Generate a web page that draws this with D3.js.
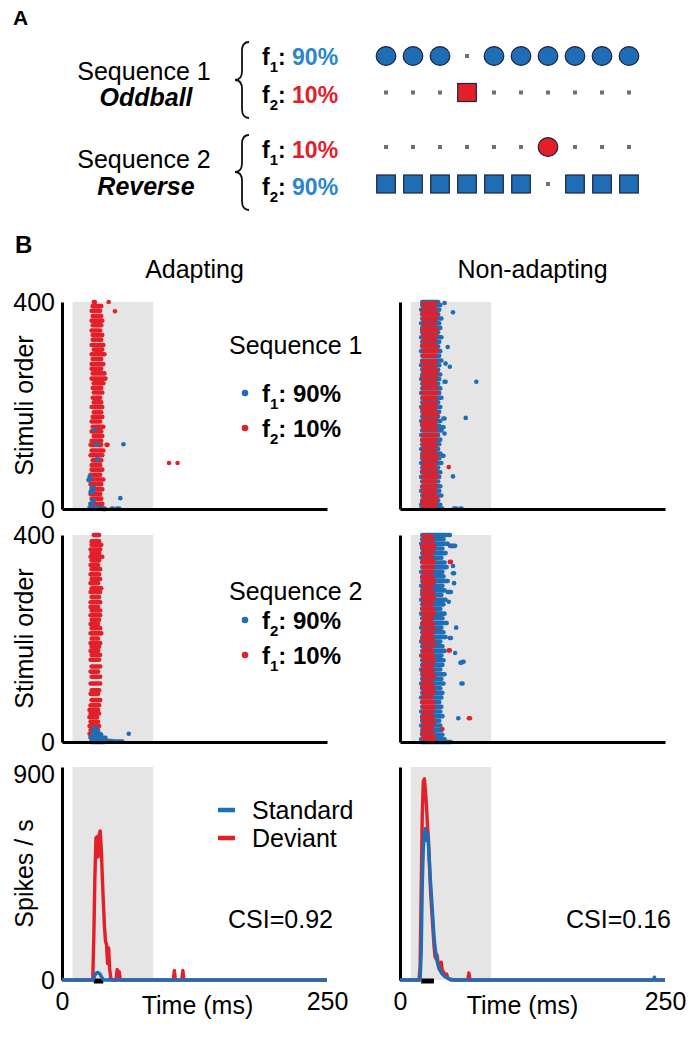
<!DOCTYPE html>
<html><head><meta charset="utf-8">
<script src="https://cdn.jsdelivr.net/npm/d3@7"></script>
<style>
html,body{margin:0;padding:0;background:#fff;}
svg{display:block;font-family:"Liberation Sans",Arial,Helvetica,sans-serif;}
</style></head><body>
<svg id="fig" width="697" height="1037"></svg>
<script>
// ================= DATA =================
// Panel A: stimulus sequences (1 = stimulus shown at that position)
const seqPositions = [0,1,2,3,4,5,6,7,8,9];
const seq1F1 = [1,1,1,0,1,1,1,1,1,1];
const seq1F2 = [0,0,0,1,0,0,0,0,0,0];
const seq2F1 = [0,0,0,0,0,0,1,0,0,0];
const seq2F2 = [1,1,1,1,1,1,0,1,1,1];
const seqLabels = ["Sequence 1","Sequence 2"];
const seqNames = ["Oddball","Reverse"];
const rowLabels = [["1","90%"],["2","10%"],["1","10%"],["2","90%"]];

// Panel B axes
const timeDomain = [0,250];
const trialDomain = [0,400];
const rateDomain = [0,900];
const stimWindow = [10,86];
const timeTicks = [0,250];
const trialTicks = [0,400];
const rateTicks = [0,900];
const columnTitles = ["Adapting","Non-adapting"];
const csiValues = ["CSI=0.92","CSI=0.16"];

// Rasters: [stimulus order, first spike (ms), last spike (ms)]
const adaptSeq1Red = [[400,30,31],[400,44,44],[392,29,37],[383,28,36],[382,50,50],[373,29,37],[364,28,38],[355,29,37],[345,28,36],[336,29,38],[327,29,37],[317,28,39],[308,30,38],[299,28,40],[290,29,37],[280,28,39],[271,28,37],[262,29,40],[252,28,41],[243,30,39],[234,29,37],[225,30,38],[215,29,36],[206,30,37],[197,28,38],[187,30,37],[178,29,38],[169,28,36],[159,29,39],[150,28,37],[141,30,38],[132,28,37],[124,27,37],[124,42,43],[113,28,39],[104,27,38],[94,29,37],[89,101,101],[89,109,109],[85,28,36],[76,28,38],[66,27,36],[57,28,39],[48,27,37],[38,28,38],[29,27,36],[20,28,37],[10,27,38],[2,28,39]];
const adaptSeq1Blue = [[153,31,31],[125,32,33],[125,58,58],[96,33,34],[62,26,27],[56,25,26],[41,28,30],[33,27,29],[21,55,55],[17,29,30],[10,27,28],[3,26,28],[3,32,35],[1,47,48],[1,52,54],[0,38,41]];
const adaptSeq2Red = [[400,30,35],[388,28,35],[381,28,37],[372,27,36],[365,28,35],[358,27,38],[351,28,35],[342,27,34],[334,28,36],[324,27,35],[315,28,36],[307,27,34],[297,28,37],[290,27,36],[280,28,35],[270,27,36],[261,27,34],[254,28,36],[245,27,36],[236,28,35],[228,27,34],[220,28,36],[210,27,37],[200,28,34],[191,27,36],[184,28,35],[176,27,34],[168,28,36],[159,27,35],[146,28,36],[136,27,34],[126,28,36],[113,27,36],[100,28,35],[93,27,34],[81,28,36],[71,27,35],[62,26,34],[55,27,35],[48,26,33],[39,27,34],[31,26,35],[23,27,34],[16,26,33],[8,27,32]];
const adaptSeq2Blue = [[27,31,32],[22,29,33],[16,30,36],[14,35,37],[16,63,63],[10,27,33],[8,38,41],[5,28,35],[3,36,42],[2,43,47],[1,46,50],[1,52,57],[0,28,40]];
const nonadSeq1Blue = [[400,21,36],[394,21,38],[385,20,37],[376,21,36],[368,21,39],[359,20,37],[350,21,38],[341,21,36],[332,20,39],[323,21,37],[314,21,36],[305,20,38],[296,21,37],[287,21,39],[278,20,37],[269,21,36],[260,21,38],[251,20,37],[242,21,36],[233,21,38],[224,20,37],[215,21,39],[206,21,36],[197,20,38],[188,21,37],[179,21,36],[170,20,38],[161,21,37],[152,21,39],[143,20,36],[134,21,38],[125,21,37],[116,20,36],[107,21,38],[98,21,37],[89,20,39],[80,21,36],[71,21,38],[62,20,37],[53,21,36],[44,21,38],[35,20,37],[26,21,39],[17,21,36],[8,20,38],[1,20,40],
  [398,42,42],[380,50,50],[313,45,45],[281,43,43],[275,47,47],[246,42,43],[246,72,72],[176,62,62],[175,41,42],[158,40,41],[146,42,42],[103,40,41],[63,50,50],[1,51,53],[1,57,58]];
const nonadSeq1Red = [[397,22,34],[387,22,33],[377,21,35],[367,22,34],[356,22,33],[346,21,35],[336,22,34],[326,22,33],[316,21,34],[306,22,35],[296,22,33],[285,21,34],[275,22,33],[265,22,35],[255,21,34],[245,22,33],[235,22,34],[224,21,35],[214,22,33],[204,22,34],[194,21,33],[184,22,35],[174,22,34],[164,21,33],[154,22,34],[143,22,35],[133,21,33],[123,22,34],[113,22,33],[103,21,35],[93,22,34],[83,22,33],[81,46,46],[73,21,34],[63,22,35],[53,22,33],[43,21,34],[33,22,33],[23,22,35],[13,21,34],[4,22,33]];
const nonadSeq2Blue = [[400,21,44],[392,21,41],[383,20,45],[374,21,40],[365,21,43],[356,20,39],[347,21,42],[338,21,44],[329,20,40],[320,21,41],[311,21,45],[302,20,40],[293,21,42],[284,21,39],[275,20,43],[266,21,41],[257,21,38],[248,20,42],[239,21,40],[230,21,44],[221,20,39],[212,21,41],[203,21,43],[194,20,38],[185,21,40],[176,21,42],[167,20,39],[158,21,41],[149,21,40],[140,20,38],[131,21,42],[122,21,39],[113,20,41],[104,21,38],[95,21,40],[86,20,39],[77,21,37],[68,21,39],[59,20,38],[50,21,40],[41,21,37],[32,20,38],[23,21,39],[14,21,40],[5,20,42],[0,20,48],
  [400,46,47],[379,47,52],[340,50,50],[326,50,51],[307,51,51],[290,45,48],[271,46,46],[221,53,53],[201,47,48],[172,52,52],[155,59,60],[153,57,58],[113,58,59],[46,55,55]];
const nonadSeq2Red = [[398,22,30],[388,22,31],[378,21,32],[368,22,31],[358,22,30],[348,21,32],[348,47,48],[338,22,31],[328,22,30],[318,21,31],[308,22,32],[298,22,30],[288,21,31],[278,22,32],[268,22,30],[258,21,31],[248,22,32],[238,22,30],[228,21,31],[218,22,32],[208,22,30],[198,21,31],[188,22,32],[177,22,30],[177,46,47],[167,21,31],[157,22,32],[147,22,30],[137,21,31],[127,22,32],[117,22,30],[107,21,31],[97,22,32],[87,22,30],[77,21,31],[67,22,32],[57,22,30],[46,65,66],[47,21,31],[37,22,32],[25,40,40],[27,22,30],[17,21,31],[7,22,32]];

// PSTH: [time (ms), spikes/s]
const psthAdaptDev = [[0,0],[29,0],[30,180],[31,430],[32,600],[33,605],[34,520],[35,610],[36,630],[37,560],[38,440],[39,330],[40,230],[41,165],[42,150],[43,70],[44,135],[45,45],[46,10],[47,0],[51,0],[52,45],[53,0],[54,35],[55,0],[105,0],[106,40],[107,0],[113,0],[114,40],[115,0],[250,0]];
const psthAdaptStd = [[0,0],[29,0],[30,8],[31,20],[32,28],[33,30],[34,32],[35,28],[36,25],[37,15],[38,8],[39,3],[40,0],[44,0],[45,5],[46,0],[52,0],[53,4],[54,0],[250,0]];
const psthNonadDev = [[0,0],[18,0],[19,60],[20,380],[21,700],[22,840],[23,850],[24,800],[25,730],[26,650],[27,580],[28,460],[29,360],[30,290],[31,220],[32,150],[33,100],[34,90],[35,105],[36,70],[37,60],[38,50],[39,75],[40,30],[41,35],[42,20],[43,15],[44,25],[45,10],[46,5],[48,0],[64,0],[65,30],[66,0],[250,0]];
const psthNonadStd = [[0,0],[19,0],[20,120],[21,400],[22,560],[23,620],[24,640],[25,590],[26,620],[27,560],[28,480],[29,400],[30,330],[31,260],[32,190],[33,140],[34,110],[35,80],[36,60],[37,45],[38,40],[39,30],[40,25],[42,15],[44,10],[46,6],[48,4],[50,0],[239,0],[240,12],[241,0],[250,0]];
const sigWindows = [[30,39],[20,32]];

// ================= STYLE =================
const BLUE = "#1f6db5", RED = "#e3202a", TXTBLUE = "#2a86c9", GRAY = "#e5e5e5";
const FS = 25;

const svg = d3.select("#fig");

// ================= PANEL A =================
svg.append("text").attr("x",13).attr("y",25).attr("font-size",21).attr("font-weight","bold").text("A");

const seqX = d3.scaleLinear().domain([0,9]).range([386,629]);
const rowsY = [56,92.5,147,184];
const rowDefs = [
  {data:seq1F1, shape:"circle", color:BLUE},
  {data:seq1F2, shape:"square", color:RED},
  {data:seq2F1, shape:"circle", color:RED},
  {data:seq2F2, shape:"square", color:BLUE}
];
rowDefs.forEach((r,i)=>{
  const g = svg.append("g");
  seqPositions.forEach(p=>{
    const cx = seqX(p), cy = rowsY[i];
    if(r.data[p]){
      if(r.shape==="circle"){
        g.append("ellipse").attr("cx",cx).attr("cy",cy).attr("rx",9.8).attr("ry",9.4)
         .attr("fill",r.color).attr("stroke","#1b2440").attr("stroke-width",1.2);
      } else {
        g.append("rect").attr("x",cx-9.3).attr("y",cy-9).attr("width",18.6).attr("height",18)
         .attr("fill",r.color).attr("stroke","#1b2440").attr("stroke-width",1.2);
      }
    } else {
      g.append("rect").attr("x",cx-2).attr("y",cy-2).attr("width",4).attr("height",4).attr("fill","#707070");
    }
  });
  const lbBase = [65,103,158,195][i];
  const t = svg.append("text").attr("x",262).attr("y",lbBase).attr("font-size",23).attr("font-weight","bold");
  t.append("tspan").text("f");
  t.append("tspan").attr("font-size",15).attr("dy",7).text(rowLabels[i][0]);
  t.append("tspan").attr("dy",-7).text(":");
  t.append("tspan").attr("fill", r.color===BLUE?TXTBLUE:RED).text(" "+rowLabels[i][1]);
});

[[80,106],[168,195]].forEach((b,i)=>{
  svg.append("text").attr("x",144).attr("y",b[0]).attr("font-size",FS).attr("text-anchor","middle").text(seqLabels[i]);
  svg.append("text").attr("x",146).attr("y",b[1]).attr("font-size",FS).attr("text-anchor","middle")
     .attr("font-weight","bold").attr("font-style","italic").text(seqNames[i]);
});

function brace(xr, xl, top, bot, mid){
  const xm = (xr+xl)/2, q = 9;
  return `M${xr},${top} Q${xm},${top} ${xm},${top+q} L${xm},${mid-q} Q${xm},${mid} ${xl},${mid} Q${xm},${mid} ${xm},${mid+q} L${xm},${bot-q} Q${xm},${bot} ${xr},${bot}`;
}
svg.append("path").attr("d",brace(249,235,42,118,80)).attr("fill","none").attr("stroke","#111").attr("stroke-width",1.8);
svg.append("path").attr("d",brace(249,235,135,210,172)).attr("fill","none").attr("stroke","#111").attr("stroke-width",1.8);

// ================= PANEL B =================
svg.append("text").attr("x",15).attr("y",253).attr("font-size",24).attr("font-weight","bold").text("B");

const colX = [[62,327],[400,665]];
const rowY = {r1:[509,302], r2:[742,535], p:[980,767]};
columnTitles.forEach((t,i)=>{
  svg.append("text").attr("x",(colX[i][0]+colX[i][1])/2).attr("y",278).attr("font-size",FS)
     .attr("text-anchor","middle").text(t);
});

function styleAxis(g){
  g.select(".domain").attr("stroke","#000").attr("stroke-width",3);
  g.selectAll(".tick text").attr("font-size",FS).attr("fill","#000").attr("font-family",null);
  g.selectAll(".tick line").remove();
}

function drawRaster(ci, yr, blueRows, redRows, blueOnTop, showLabels){
  const x = d3.scaleLinear().domain(timeDomain).range(colX[ci]);
  const y = d3.scaleLinear().domain(trialDomain).range(yr);
  const g = svg.append("g");
  g.append("rect").attr("x",x(stimWindow[0])).attr("y",y(trialDomain[1]))
   .attr("width",x(stimWindow[1])-x(stimWindow[0])).attr("height",y(trialDomain[0])-y(trialDomain[1])).attr("fill",GRAY);
  const layers = blueOnTop ? [[redRows,RED],[blueRows,BLUE]] : [[blueRows,BLUE],[redRows,RED]];
  layers.forEach(([rows,col])=>{
    g.append("g").selectAll("line").data(rows).join("line")
      .attr("x1",d=>x(d[1])).attr("x2",d=>x(d[2])).attr("y1",d=>y(d[0])).attr("y2",d=>y(d[0]))
      .attr("stroke",col).attr("stroke-width",4.6).attr("stroke-linecap","round");
  });
  const ya = g.append("g").attr("transform",`translate(${colX[ci][0]},0)`)
    .call(d3.axisLeft(y).tickValues(showLabels?trialTicks:[]).tickSize(0).tickSizeOuter(0).tickPadding(7).tickFormat(d3.format("d")));
  styleAxis(ya);
  const xa = g.append("g").attr("transform",`translate(0,${yr[0]})`)
    .call(d3.axisBottom(x).tickValues([]).tickSizeOuter(0));
  styleAxis(xa);
  if(showLabels){
    svg.append("text").attr("transform",`translate(33,${(yr[0]+yr[1])/2}) rotate(-90)`)
      .attr("font-size",FS).attr("text-anchor","middle").text("Stimuli order");
  }
}
drawRaster(0, rowY.r1, adaptSeq1Blue, adaptSeq1Red, true, true);
drawRaster(1, rowY.r1, nonadSeq1Blue, nonadSeq1Red, false, false);
drawRaster(0, rowY.r2, adaptSeq2Blue, adaptSeq2Red, true, true);
drawRaster(1, rowY.r2, nonadSeq2Blue, nonadSeq2Red, false, false);

// raster legends
function rasterLegend(titleY, dotY, title, labels){
  svg.append("text").attr("x",229).attr("y",titleY).attr("font-size",FS).text(title);
  labels.forEach((l,i)=>{
    svg.append("circle").attr("cx",245).attr("cy",dotY[i]).attr("r",3.3).attr("fill",i?RED:BLUE);
    const t = svg.append("text").attr("x",262).attr("y",dotY[i]+9).attr("font-size",24).attr("font-weight","bold");
    t.append("tspan").text("f");
    t.append("tspan").attr("font-size",15).attr("dy",7).text(l[0]);
    t.append("tspan").attr("dy",-7).text(": "+l[1]);
  });
}
rasterLegend(354,[393,428],"Sequence 1",[["1","90%"],["2","10%"]]);
rasterLegend(600,[620,655],"Sequence 2",[["2","90%"],["1","10%"]]);

// PSTH
function drawPsth(ci, std, dev, sig, csi, showY){
  const x = d3.scaleLinear().domain(timeDomain).range(colX[ci]);
  const y = d3.scaleLinear().domain(rateDomain).range(rowY.p);
  const g = svg.append("g");
  g.append("rect").attr("x",x(stimWindow[0])).attr("y",y(rateDomain[1]))
   .attr("width",x(stimWindow[1])-x(stimWindow[0])).attr("height",y(0)-y(rateDomain[1])).attr("fill",GRAY);
  const ya = g.append("g").attr("transform",`translate(${colX[ci][0]},0)`)
    .call(d3.axisLeft(y).tickValues(showY?rateTicks:[]).tickSize(0).tickSizeOuter(0).tickPadding(7).tickFormat(d3.format("d")));
  styleAxis(ya);
  ya.selectAll(".tick").filter(d=>d===rateDomain[1]).select("text").attr("dy","0.6em");
  const xa = g.append("g").attr("transform",`translate(0,${y(0)})`)
    .call(d3.axisBottom(x).tickValues(timeTicks).tickSize(0).tickSizeOuter(0).tickPadding(12));
  styleAxis(xa);
  xa.select(".domain").remove();
  g.append("line").attr("x1",x(sig[0])).attr("x2",x(sig[1])).attr("y1",y(0)+1).attr("y2",y(0)+1)
    .attr("stroke","#000").attr("stroke-width",5);
  const line = d3.line().x(d=>x(d[0])).y(d=>y(d[1]));
  [[dev,RED],[std,BLUE]].forEach(([s,c])=>{
    g.append("path").datum(s).attr("d",line).attr("fill","none").attr("stroke",c)
      .attr("stroke-width",3.4).attr("stroke-linejoin","round");
  });
  svg.append("text").attr("x",(colX[ci][0]+colX[ci][1])/2+ (ci?-10:3)).attr("y",1014).attr("font-size",FS)
    .attr("text-anchor","middle").text("Time (ms)");
  svg.append("text").attr("x",colX[ci][0]+271).attr("y",928).attr("font-size",FS).attr("text-anchor","end").text(csi);
  if(showY){
    svg.append("text").attr("transform",`translate(33,${(rowY.p[0]+rowY.p[1])/2}) rotate(-90)`)
      .attr("font-size",FS).attr("text-anchor","middle").text("Spikes / s");
  }
}
drawPsth(0, psthAdaptStd, psthAdaptDev, sigWindows[0], csiValues[0], true);
drawPsth(1, psthNonadStd, psthNonadDev, sigWindows[1], csiValues[1], false);

// PSTH legend
[["Standard",BLUE,810],["Deviant",RED,838]].forEach(([t,c,yy])=>{
  svg.append("line").attr("x1",218).attr("x2",235).attr("y1",yy).attr("y2",yy).attr("stroke",c).attr("stroke-width",4.5);
  svg.append("text").attr("x",252).attr("y",yy+9).attr("font-size",FS).text(t);
});
</script></body></html>
